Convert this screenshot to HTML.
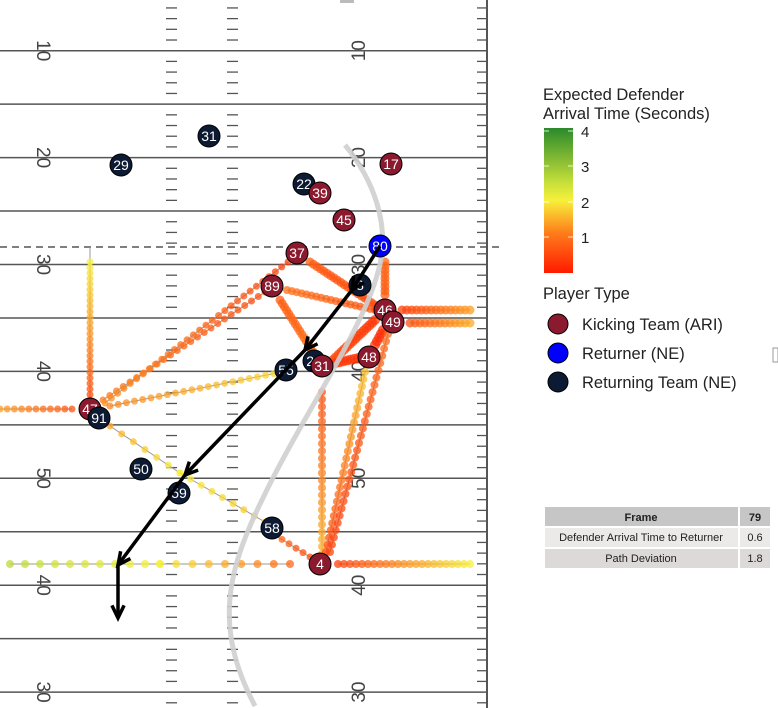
<!DOCTYPE html>
<html><head><meta charset="utf-8"><style>
body{margin:0;background:#fff;width:778px;height:708px;overflow:hidden;font-family:"Liberation Sans",sans-serif}
svg{position:absolute;left:0;top:0}
</style></head><body>
<svg id="s" width="778" height="708" xmlns="http://www.w3.org/2000/svg" font-family="Liberation Sans, sans-serif">
<defs>
<linearGradient id="cb" x1="0" y1="1" x2="0" y2="0">
<stop offset="0" stop-color="#ff1a00"/>
<stop offset="0.27" stop-color="#ff7a1a"/>
<stop offset="0.5" stop-color="#f7f03a"/>
<stop offset="0.62" stop-color="#c8e03a"/>
<stop offset="1" stop-color="#2b8a2b"/>
</linearGradient>
</defs>
<g id="field"></g>
<g id="paths"></g>
<path d="M345,145 C372,178 392,225 378,272 C362,332 300,420 262,500 C225,575 215,630 255,706" fill="none" stroke="#cfcfcf" stroke-width="5" opacity="0.9"/>
<g id="players"></g>
<g id="arrows" stroke="#000" stroke-width="3.5" fill="none"></g>
<!-- legend -->
<text x="543" y="100" font-size="16.5" fill="#222">Expected Defender</text>
<text x="543" y="119" font-size="16.5" fill="#222">Arrival Time (Seconds)</text>
<rect x="544" y="128" width="29" height="145" fill="url(#cb)"/>
<g stroke="#fff" stroke-width="1" opacity="0.8">
<line x1="544" y1="131" x2="549" y2="131"/><line x1="568" y1="131" x2="573" y2="131"/>
<line x1="544" y1="166" x2="549" y2="166"/><line x1="568" y1="166" x2="573" y2="166"/>
<line x1="544" y1="202" x2="549" y2="202"/><line x1="568" y1="202" x2="573" y2="202"/>
<line x1="544" y1="237" x2="549" y2="237"/><line x1="568" y1="237" x2="573" y2="237"/>
</g>
<g font-size="15" fill="#222">
<text x="581" y="137">4</text><text x="581" y="172">3</text><text x="581" y="208">2</text><text x="581" y="243">1</text>
</g>
<text x="543" y="299" font-size="16.5" fill="#222">Player Type</text>
<circle cx="558" cy="324" r="10" fill="#8b1a2f" stroke="#000"/>
<circle cx="558" cy="353" r="10" fill="#0000ff" stroke="#000"/>
<circle cx="558" cy="382" r="10" fill="#0d1a33" stroke="#000"/>
<g font-size="16.5" fill="#222">
<text x="582" y="330">Kicking Team (ARI)</text>
<text x="582" y="359">Returner (NE)</text>
<text x="582" y="388">Returning Team (NE)</text>
</g>
<!-- table -->
<rect x="545" y="507" width="193" height="19" fill="#c6c6c6"/>
<rect x="740" y="507" width="30" height="19" fill="#c6c6c6"/>
<rect x="545" y="528" width="193" height="19" fill="#ece9e9"/>
<rect x="740" y="528" width="30" height="19" fill="#ece9e9"/>
<rect x="545" y="549" width="193" height="19" fill="#ddd9d9"/>
<rect x="740" y="549" width="30" height="19" fill="#ddd9d9"/>
<g font-size="11" fill="#222" text-anchor="middle">
<text x="641" y="521" font-weight="bold">Frame</text><text x="755" y="521" font-weight="bold">79</text>
<text x="641" y="541">Defender Arrival Time to Returner</text><text x="755" y="541">0.6</text>
<text x="641" y="562">Path Deviation</text><text x="755" y="562">1.8</text>
</g>
<rect x="340" y="0" width="14" height="3" fill="#bbb"/>
<rect x="773" y="348" width="5" height="14" fill="none" stroke="#999"/>
</svg>
<script>
const NS="http://www.w3.org/2000/svg";
function el(p,t,a,txt){const e=document.createElementNS(NS,t);for(const k in a)e.setAttribute(k,a[k]);if(txt!==undefined)e.textContent=txt;document.getElementById(p).appendChild(e);return e;}
for(let k=0;k<13;k++){const y=50.7+53.45*k;el('field','line',{x1:0,y1:y,x2:487,y2:y,stroke:'#555','stroke-width':1.5});}
for(let k=-1;k<13;k++){for(let j=1;j<5;j++){const y=50.7+53.45*k+j*10.69;if(y<0||y>708)continue;
 [[166,177],[227,238],[477,487]].forEach(h=>el('field','line',{x1:h[0],y1:y,x2:h[1],y2:y,stroke:'#555','stroke-width':1.3}));}}
el('field','line',{x1:487,y1:0,x2:487,y2:708,stroke:'#555','stroke-width':2});
el('field','line',{x1:0,y1:247,x2:500,y2:247,stroke:'#555','stroke-width':1.5,'stroke-dasharray':'7,5'});
const nums=['10','20','30','40','50','40','30'];
nums.forEach((n,i)=>{const y=50.7+106.9*i;
 el('field','text',{x:0,y:0,'font-size':19,fill:'#444','text-anchor':'middle',transform:`translate(37,${y}) rotate(90)`},n);
 el('field','text',{x:0,y:0,'font-size':19,fill:'#444','text-anchor':'middle',transform:`translate(365,${y}) rotate(-90)`},n);});
function col(v){const st=[[0,[255,26,0]],[1,[255,122,26]],[2,[247,240,58]],[2.5,[200,224,58]],[4,[43,138,43]]];
 for(let i=0;i<st.length-1;i++){if(v<=st[i+1][0]){const t=(v-st[i][0])/(st[i+1][0]-st[i][0]);const a=st[i][1],b=st[i+1][1];return `rgb(${a.map((c,j)=>Math.round(c+(b[j]-c)*t)).join(',')})`;}}return 'rgb(43,138,43)';}
function dots(x1,y1,x2,y2,v1,v2,r,sp){r=r||4;sp=sp||8;
 el('paths','line',{x1,y1,x2,y2,stroke:'#999','stroke-width':1});
 const L=Math.hypot(x2-x1,y2-y1),n=Math.max(1,Math.round(L/sp));
 for(let i=0;i<=n;i++){const t=i/n;el('paths','circle',{cx:x1+(x2-x1)*t,cy:y1+(y2-y1)*t,r,fill:col(v1+(v2-v1)*t),opacity:0.75});}}
el('paths','line',{x1:90,y1:247,x2:90,y2:262,stroke:'#999','stroke-width':1});
dots(90,262,90,400,2.0,0.5,3.5,5.5);
dots(0,409,72,409,1.3,0.6,3.5,7);
dots(103,400,265,292,1.0,0.5,3.5,8);
dots(105,403,288,262,1.2,0.4,3.5,8);
dots(110,406,282,372,1.1,1.8,3.5,8.5);
dots(110,426,180,473,1.4,2.0,3.5,13);
dots(180,473,265,522,2.0,1.6,3.5,13);
dots(275,535,310,557,0.8,0.5,3.5,9);
dots(310,262,375,305,0.7,0.5,4.5,4);
dots(287,290,375,310,0.9,0.6,4,5);
dots(280,300,315,355,0.7,0.9,4.5,4);
dots(385,262,385,295,0.8,0.7,4.5,4);
dots(402,310,470,310,0.4,1.3,4.5,5);
dots(410,323,470,323,0.6,1.4,4.5,5);
dots(375,320,333,360,0.3,0.5,5,4);
dots(336,363,358,358,0.3,0.3,5,4);
dots(383,330,375,345,0.2,0.2,5,4);
dots(322,392,322,554,0.6,1.5,4,7.5);
dots(365,372,326,552,1.6,0.5,4,7.5);
dots(388,334,330,552,0.8,0.4,4,7.5);
dots(338,564,470,564,0.4,2.0,4,6);
dots(10,564,160,564,2.6,2.0,4,15.5);
dots(160,564,290,564,2.0,0.8,4,15.5);
const P=[[209,136,'31','n'],[121,165,'29','n'],[391,164,'17','r'],[304,184,'22','n'],[320,193,'39','r'],[344,220,'45','r'],
[297,253,'37','r'],[272,286,'89','r'],[360,285,'8','n'],[385,310,'46','r'],[393,322,'49','r'],[314,361,'21','n'],[322,366,'31','r'],
[286,370,'55','n'],[369,357,'48','r'],[90,409,'47','r'],[99,418,'91','n'],[141,469,'50','n'],[179,493,'59','n'],[272,528,'58','n'],[320,564,'4','r'],[380,246,'80','b']];
const C={n:'#0d1a33',r:'#8b1a2f',b:'#0000ff'};
P.forEach(p=>{el('players','circle',{cx:p[0],cy:p[1],r:11,fill:C[p[3]],stroke:'#000','stroke-width':1});
 el('players','text',{x:p[0],y:p[1]+5,'font-size':14,fill:'#fff','text-anchor':'middle'},p[2]);});
const A=[[380,246],[352,290],[305,350],[185,475],[118,565],[118,618]];
for(let i=0;i<A.length-1;i++){const [x1,y1]=A[i],[x2,y2]=A[i+1];
 el('arrows','line',{x1,y1,x2,y2});
 const a=Math.atan2(y2-y1,x2-x1),s=14,w=0.45;
 el('arrows','polyline',{points:`${x2-s*Math.cos(a-w)},${y2-s*Math.sin(a-w)} ${x2},${y2} ${x2-s*Math.cos(a+w)},${y2-s*Math.sin(a+w)}`});}
</script>
</body></html>
